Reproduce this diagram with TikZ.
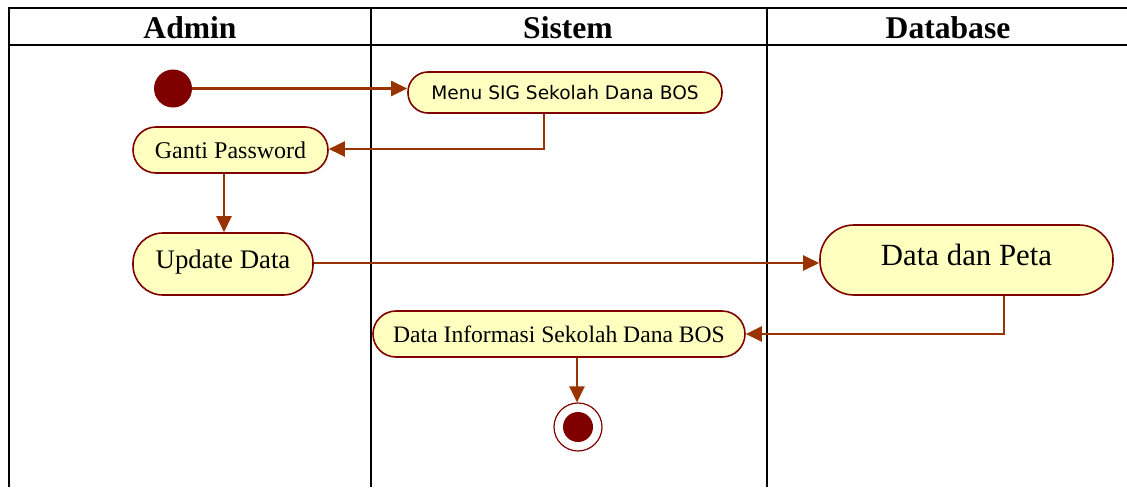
\documentclass[tikz,border=0pt]{standalone}
\usepackage{fontspec}
\setmainfont{Liberation Serif}
\newfontfamily\menufont{DejaVu Sans}
\usetikzlibrary{arrows.meta}
\definecolor{nodeFill}{HTML}{FFFFC0}
\definecolor{nodeLine}{HTML}{800000}
\definecolor{flowLine}{HTML}{993300}
\definecolor{dotFill}{HTML}{800000}
\tikzset{
  lane/.style={line width=1.1pt, black},
  actbox/.style={draw=nodeLine, fill=nodeFill, line width=0.8pt, rounded corners=#1, inner sep=0pt, align=center},
  flow/.style={draw=flowLine, line width=1.2pt, -{Triangle[length=8pt,width=7.5pt]}},
  hdr/.style={font=\fontsize{15.8}{18}\selectfont\bfseries, inner sep=0pt, anchor=base}
}
\begin{document}
\begin{tikzpicture}[x=0.5pt,y=-0.5pt]
\useasboundingbox (0,0) rectangle (1127,487);
% swimlane frame
\draw[lane] (1127,8) -- (9,8) -- (9,487);
\draw[lane] (9,45) -- (1127,45);
\draw[lane] (371,8) -- (371,487);
\draw[lane] (767,8) -- (767,487);
% headers
\node[hdr] (hAdmin) at (190,38) {Admin};
\node[hdr] (hSistem) at (568,38) {Sistem};
\node[hdr] (hDatabase) at (948,38) {Database};
% start
\node[circle, fill=dotFill, inner sep=0pt, minimum size=19pt] (start) at (173,88.5) {};
% activities
\node[actbox=10pt, minimum width=157pt, minimum height=20.5pt, font=\menufont\fontsize{9.3}{11}\selectfont] (menu) at (565,92.5) {Menu SIG Sekolah Dana BOS};
\node[actbox=11.5pt, minimum width=97.5pt, minimum height=23pt, font=\fontsize{12}{14}\selectfont] (ganti) at (230.5,150) {Ganti Password};
\node[actbox=15pt, minimum width=90pt, minimum height=31pt, font=\fontsize{13.4}{16}\selectfont] (update) at (223,264) {\raisebox{5pt}{Update Data}};
\node[actbox=17pt, minimum width=146.5pt, minimum height=35pt, font=\fontsize{15.4}{18}\selectfont] (peta) at (966.5,260) {\raisebox{5.5pt}{Data dan Peta}};
\node[actbox=11.5pt, minimum width=186pt, minimum height=23pt, font=\fontsize{11.8}{14}\selectfont] (info) at (559,334) {Data Informasi Sekolah Dana BOS};
% end
\node[circle, draw=nodeLine, fill=white, line width=0.6pt, minimum size=24pt, inner sep=0pt] (end) at (578,427) {};
\node[circle, fill=dotFill, minimum size=15pt, inner sep=0pt] (endDot) at (end.center) {};
% flows
\draw[flow] (start.east) -- (menu.west |- start.east);
\draw[flow] (menu.south -| 544,0) -- (544,149) -- (ganti.east |- 0,149);
\draw[flow] (ganti.south -| 224,0) -- (update.north -| 224,0);
\draw[flow] (update.east |- 0,263) -- (peta.west |- 0,263);
\draw[flow] (peta.south -| 1004,0) -- (1004,334) -- (info.east);
\draw[flow] (info.south -| 577,0) -- (end.north -| 577,0);
\end{tikzpicture}
\end{document}
